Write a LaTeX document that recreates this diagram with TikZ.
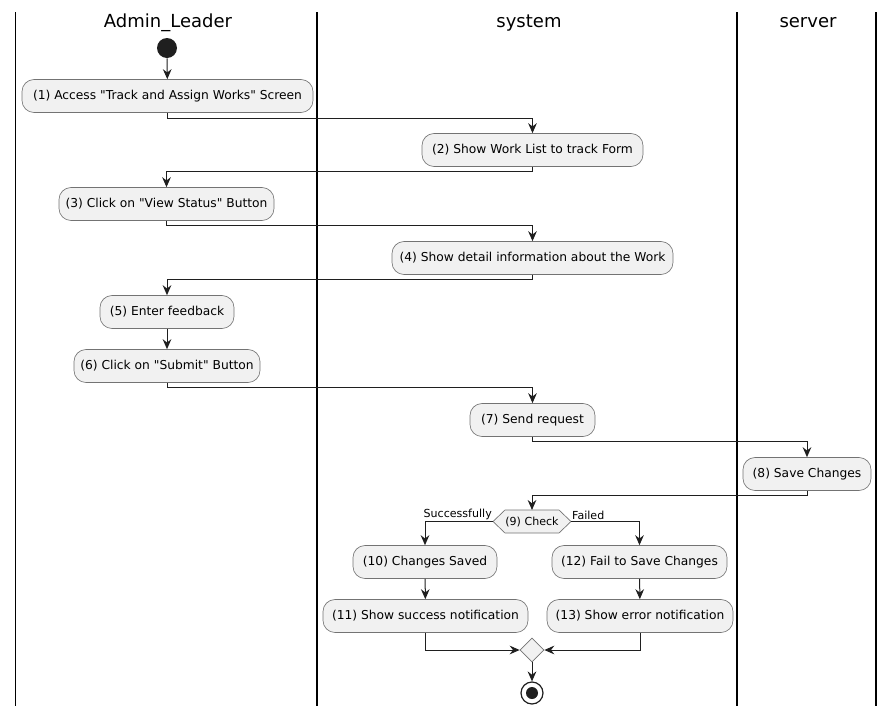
\documentclass[tikz,border=0pt]{standalone}
\usepackage{fontspec}
\setmainfont{DejaVu Sans}[Ligatures=TeXOff]
\usetikzlibrary{arrows.meta,shapes.geometric,calc}
\tikzset{
  act/.style={draw=black!55, line width=0.5pt, fill=black!5.5, rounded corners=9pt,
    minimum height=33*0.75pt, inner sep=0pt, font=\fontsize{9.2}{11}\selectfont},
  flow/.style={draw=black!88, line width=0.75pt, -{Stealth[length=7.5pt,width=6.5pt,inset=2.5pt]}},
  lane/.style={line width=1.1pt, black},
  title/.style={font=\fontsize{13.5}{15}\selectfont},
  small/.style={font=\fontsize{8.3}{10}\selectfont, inner sep=0pt},
}
\begin{document}
\begin{tikzpicture}[x=0.75pt,y=-0.75pt]
\useasboundingbox (0,0) rectangle (894,715);
% lanes
\foreach \x in {15.5,317,737,876} \draw[lane] (\x,12) -- (\x,706);
\node[title] (t1) at (168,23) {Admin\_Leader};
\node[title] (t2) at (529,23) {system};
\node[title] (t3) at (808,23) {server};
% start
\node[circle, fill=black!88, minimum size=20*0.75pt, inner sep=0pt] (start) at (167,48) {};
% activities
\node[act, minimum width=291*0.75pt] (n1) at (167.5,96) {(1) Access "Track and Assign Works" Screen};
\node[act, minimum width=221*0.75pt] (n2) at (532.5,150) {(2) Show Work List to track Form};
\node[act, minimum width=215*0.75pt] (n3) at (166.5,204) {(3) Click on "View Status" Button};
\node[act, minimum width=281*0.75pt] (n4) at (532.5,258) {(4) Show detail information about the Work};
\node[act, minimum width=134*0.75pt] (n5) at (167,312) {(5) Enter feedback};
\node[act, minimum width=186*0.75pt] (n6) at (167,366) {(6) Click on "Submit" Button};
\node[act, minimum width=125*0.75pt] (n7) at (532.5,420) {(7) Send request};
\node[act, minimum width=128*0.75pt] (n8) at (807,474) {(8) Save Changes};
% check hexagon
\draw[draw=black!55, line width=0.5pt, fill=black!5.5] (493,521.5) -- (505,510) -- (559,510) -- (571,521.5) -- (559,533) -- (505,533) -- cycle;
\node[small] (check) at (532,522) {(9) Check};
\coordinate (checkN) at (532,510);
\coordinate (checkW) at (493,521.5);
\coordinate (checkE) at (571,521.5);
\node[act, minimum width=144*0.75pt] (n10) at (425,562) {(10) Changes Saved};
\node[act, minimum width=205*0.75pt] (n11) at (425.5,616) {(11) Show success notification};
\node[act, minimum width=175*0.75pt] (n12) at (639.5,562) {(12) Fail to Save Changes};
\node[act, minimum width=186*0.75pt] (n13) at (640,616) {(13) Show error notification};
\node[diamond, draw=black!55, line width=0.5pt, fill=black!5.5, minimum size=24*0.75pt, inner sep=0pt] (merge) at (532,650) {};
% end
\node[circle, draw=black!88, line width=0.9pt, fill=white, minimum size=22*0.75pt, inner sep=0pt] (stop) at (532,693) {};
\node[circle, fill=black!88, minimum size=12*0.75pt, inner sep=0pt] (stopin) at (532,693) {};
% connectors
\draw[flow] (start) -- (n1);
\draw[flow] (n1.south) -- ++(0,6) -| (n2.north);
\draw[flow] (n2.south) -- ++(0,5) -| (n3.north);
\draw[flow] (n3.south) -- ++(0,5) -| (n4.north);
\draw[flow] (n4.south) -- ++(0,5) -| (n5.north);
\draw[flow] (n5) -- (n6);
\draw[flow] (n6.south) -- ++(0,5) -| (n7.north);
\draw[flow] (n7.south) -- ++(0,5) -| (n8.north);
\draw[flow] (n8.south) -- ++(0,5) -| (checkN);
\draw[flow] (checkW) -| node[small, pos=0.0, anchor=south east, xshift=-0.5pt, yshift=1pt] (lsucc) {Successfully} (n10.north);
\draw[flow] (checkE) -| node[small, pos=0.0, anchor=south west, xshift=0.5pt, yshift=1pt] (lfail) {Failed} (n12.north);
\draw[flow] (n10) -- (n11);
\draw[flow] (n12) -- (n13);
\draw[flow] (n11.south) |- (merge.west);
\draw[flow] (n13.south) |- (merge.east);
\draw[flow] (merge) -- (stop);
\end{tikzpicture}
\end{document}
